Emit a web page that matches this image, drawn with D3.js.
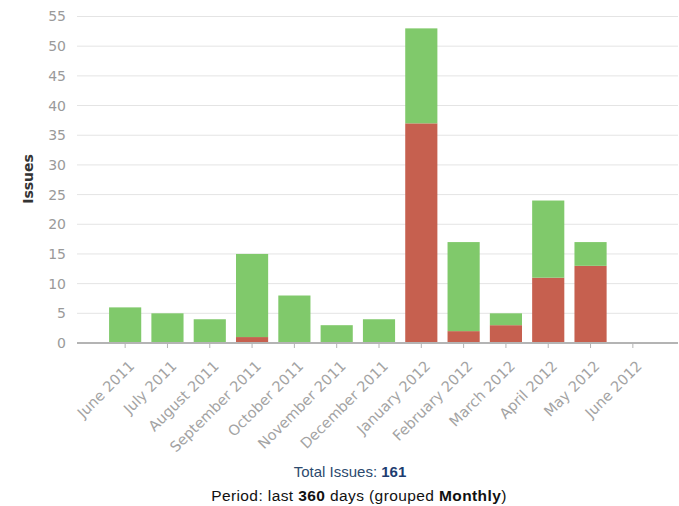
<!DOCTYPE html>
<html>
<head>
<meta charset="utf-8">
<script src="https://cdn.jsdelivr.net/npm/d3@7"></script>
<style>
  html, body { margin: 0; padding: 0; background: #fff; }
  svg { display: block; }
</style>
</head>
<body>
<svg id="chart" width="679" height="506"></svg>
<script>
// Monthly issue counts, split into the two stacked groups
const months = ["June 2011", "July 2011", "August 2011", "September 2011", "October 2011",
  "November 2011", "December 2011", "January 2012", "February 2012", "March 2012",
  "April 2012", "May 2012", "June 2012"];
const redValues   = [0, 0, 0, 1, 0, 0, 0, 37, 2, 3, 11, 13, 0];
const greenValues = [6, 5, 4, 14, 8, 3, 4, 16, 15, 2, 13, 4, 0];
const yTicks = [0, 5, 10, 15, 20, 25, 30, 35, 40, 45, 50, 55];
const totalIssues = 161;
const periodDays = 360;
const grouping = "Monthly";

const svg = d3.select("#chart");

const plotLeft = 77, plotRight = 678, plotTop = 16.5, plotBottom = 343;

const x = d3.scaleBand()
  .domain(months)
  .range([104, 654])
  .paddingInner(0.24)
  .paddingOuter(0.12);

const y = d3.scaleLinear()
  .domain([0, 55])
  .range([plotBottom, plotTop]);

// Horizontal grid lines
svg.append("g")
  .selectAll("line")
  .data(yTicks.filter(t => t > 0))
  .join("line")
  .attr("x1", plotLeft).attr("x2", plotRight)
  .attr("y1", d => y(d)).attr("y2", d => y(d))
  .attr("stroke", "#e4e4e4").attr("stroke-width", 1);

// Y axis tick labels
const yAxis = d3.axisLeft(y).tickValues(yTicks).tickSize(0).tickPadding(0);
const gy = svg.append("g").attr("transform", `translate(66,0)`).call(yAxis);
gy.select(".domain").remove();
gy.selectAll("text")
  .attr("font-family", "DejaVu Sans, sans-serif")
  .attr("font-size", 14)
  .attr("fill", "#9a9a9a");

// Y axis title
svg.append("text")
  .attr("transform", `translate(33,179) rotate(-90)`)
  .attr("text-anchor", "middle")
  .attr("font-family", "DejaVu Sans, sans-serif")
  .attr("font-weight", "bold")
  .attr("font-size", 14)
  .attr("fill", "#333")
  .text("Issues");

// Stacked bars
const rows = months.map((m, i) => ({ month: m, red: redValues[i], green: greenValues[i] }));
const stack = d3.stack().keys(["red", "green"])(rows);
const colors = { red: "#c6604f", green: "#80c96b" };

svg.append("g")
  .selectAll("g")
  .data(stack)
  .join("g")
  .attr("fill", s => colors[s.key])
  .selectAll("rect")
  .data(s => s.filter(d => d[1] > d[0]))
  .join("rect")
  .attr("x", d => x(d.data.month))
  .attr("width", x.bandwidth())
  .attr("y", d => y(d[1]))
  .attr("height", d => y(d[0]) - y(d[1]));

// X axis line and ticks
svg.append("line")
  .attr("x1", plotLeft).attr("x2", plotRight)
  .attr("y1", plotBottom).attr("y2", plotBottom)
  .attr("stroke", "#b4b4b4").attr("stroke-width", 2);

const xAxis = d3.axisBottom(x).tickSize(5).tickPadding(0);
const gx = svg.append("g").attr("transform", `translate(0,${plotBottom})`).call(xAxis);
gx.select(".domain").remove();
gx.selectAll(".tick line").attr("stroke", "#b4b4b4");
gx.selectAll(".tick text")
  .attr("font-family", "DejaVu Sans, sans-serif")
  .attr("font-size", 14.5)
  .attr("fill", "#a3a3a3")
  .attr("text-anchor", "end")
  .attr("y", 0)
  .attr("dy", 0)
  .attr("transform", "translate(10,24) rotate(-45)");

// Footer summary
const footer = svg.append("g")
  .attr("font-family", "Liberation Sans, Arial, sans-serif")
  .attr("text-anchor", "middle");

const line1 = footer.append("text")
  .attr("x", 350).attr("y", 477)
  .attr("font-size", 15)
  .attr("fill", "#2c4a6e");
line1.append("tspan").text("Total Issues: ");
line1.append("tspan").attr("font-weight", "bold").attr("fill", "#1d3c70").text(totalIssues);

const line2 = footer.append("text")
  .attr("x", 359).attr("y", 501)
  .attr("font-size", 15.5)
  .attr("letter-spacing", 0.4)
  .attr("fill", "#111");
line2.append("tspan").text("Period: last ");
line2.append("tspan").attr("font-weight", "bold").text(periodDays);
line2.append("tspan").text(" days (grouped ");
line2.append("tspan").attr("font-weight", "bold").text(grouping);
line2.append("tspan").text(")");
</script>
</body>
</html>
